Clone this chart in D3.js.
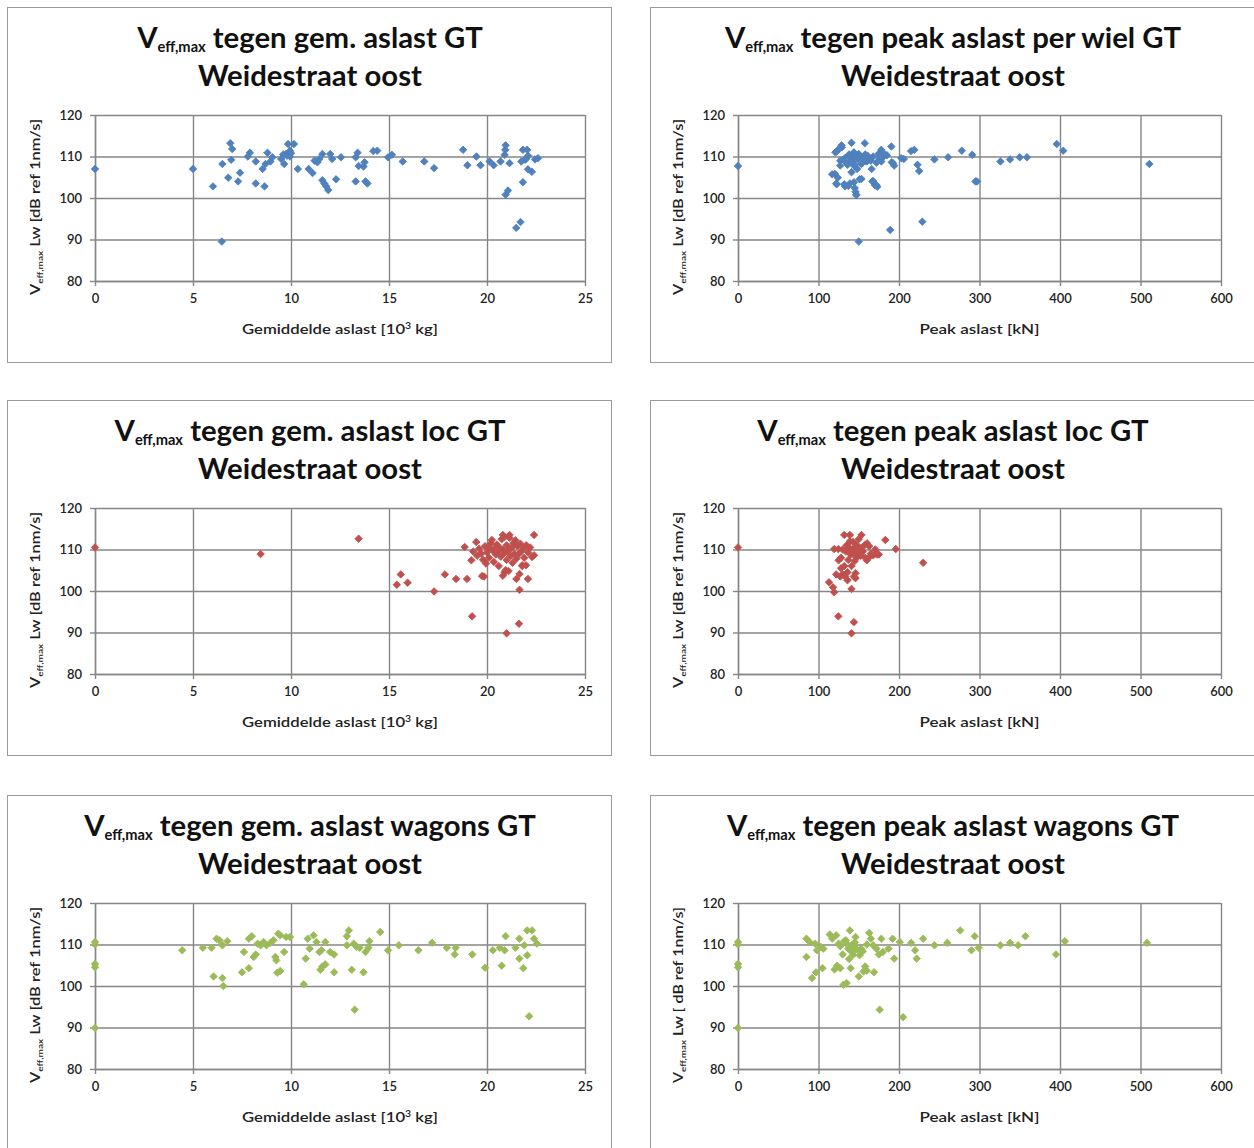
<!DOCTYPE html>
<html>
<head>
<meta charset="utf-8">
<script src="https://cdn.jsdelivr.net/npm/d3@7"></script>
<style>
  html, body { margin: 0; padding: 0; background: #ffffff; }
  svg { display: block; }
</style>
</head>
<body>
<svg id="chart" width="1254" height="1148"></svg>
<script>
// ---------------- DATA ----------------
const xTicksGem = [0, 5, 10, 15, 20, 25];
const xTicksPeak = [0, 100, 200, 300, 400, 500, 600];
const yTicks = [80, 90, 100, 110, 120];

const titleMain = "V";
const titleSub = "eff,max";
const titles = [
  " tegen gem. aslast GT",
  " tegen peak aslast per wiel GT",
  " tegen gem. aslast loc GT",
  " tegen peak aslast loc GT",
  " tegen gem. aslast wagons GT",
  " tegen peak aslast wagons GT"
];
const subtitle = "Weidestraat oost";
const xTitleGem = ["Gemiddelde aslast [10", "3", " kg]"];
const xTitlePeak = ["Peak aslast [kN]", "", ""];
const yTitleA = "  Lw  [dB ref 1nm/s]";
const yTitleB = "  Lw  [ dB ref 1nm/s]";

// Panel 1: gem. aslast GT (all)
const gemAll = [
  [0,107.0],[5,107.0],[6.02,102.8],[6.47,89.5],[6.5,108.2],[6.8,104.9],[6.9,113.2],[7.0,111.8],
  [6.95,109.2],[7.3,104.0],[7.4,106.1],[7.8,110],[7.9,110.9],[8.2,103.5],[8.2,108.8],[8.55,107],
  [8.65,102.8],[8.8,110.9],[8.7,108.2],[8.95,108.8],[9.05,109.8],[9.5,109.4],[9.65,108.2],[9.75,110.6],
  [9.85,113],[9.95,110],[9.95,111.4],[9.8,110.2],[10.0,110.8],[9.6,110.5],[10.15,113],[10.35,107],
  [10.9,107],[11.1,106],[11.2,109],[11.35,108.6],[11.45,109.4],[11.6,110.6],[11.6,104.3],[11.7,103.5],
  [11.8,102.8],[11.9,101.9],[12.0,110.6],[12.1,109.4],[12.3,104.5],[12.55,109.8],[13.3,104.0],[13.3,109.8],
  [13.4,110.9],[13.45,107.7],[13.7,107.6],[13.75,108.6],[13.8,104],[13.9,103.5],[14.2,111.3],[14.4,111.4],
  [14.95,109.8],[15.15,110.4],[15.7,108.8],[16.8,108.8],[17.3,107.2],
  [18.78,111.6],[19.0,107.9],[19.46,110],[19.67,107.9],[20.13,108.8],[20.34,107.9],[20.69,108.8],
  [20.93,111.6],[20.95,112.7],[20.9,110.4],[21.15,108.4],[21.07,101.8],[20.95,100.8],[21.83,111.6],
  [22.05,111.6],[21.75,108.8],[22.0,109.5],[22.1,110.2],[21.95,109.2],[22.6,109.6],[22.45,109.3],
  [22.09,106.9],[22.29,106.3],[21.83,103.8],[21.71,94.2],[21.49,92.8]
];

// Panel 2: peak aslast per wiel GT
const peakAll = [
  [0,107.7],[117,105.7],[121,111],[122,103.5],[124,104.9],[127,109],[127,107.8],[129,112.2],[128.7,112.7],
  [133,102.8],[134,108.6],[137,110.2],[139,103.5],[141,113.3],[141,108.6],[141,106.2],[144,107.8],
  [144,103.8],[146,101.5],[147,100.7],[149,109.4],[150,110.6],[151,104.5],[153,108.2],[156,109.8],
  [157.5,113.2],[158,109],[161,110.2],[163,109.4],[166,107],[167,104],[170,103.1],[173,102.7],[175,110.6],
  [178,111.6],[176,110.9],[180,109.8],[182,110.6],[190.5,112.4],[191,108.6],[194,107.8],[202.8,109.6],
  [206,109.4],[215,111.3],[219,111.6],[223,108],[225,106.5],[189,92.3],[229,94.3],[150,89.5],
  [244,109.3],[261,109.8],[278,111.4],[291,110.4],[295,104],[297,104],[326,108.8],[338,109.3],[350,109.8],
  [359,109.8],[396,113],[404,111.4],[511,108.2],
  [122.6,111.2],[126.7,112.1],[120.5,105.8],[122.6,103.3],[132,103.3],[137,102.9],[145,102.4],[147,100.8],
  [153.4,104.6],[167.8,104.1],[172,103.1],[192.5,108.4],
  [140,109],[143,110],[145,108],[147,109.5],[152,110],[155,108.5],[158,110.5],[160,108.8],[138,110.5],
  [132,109.5],[136,108],[144,111],[148,107],[165,109],[168,110],[172,108.5],[176,109.5],[185,110.3],[178,108.8]
];

// Panel 3: gem. aslast loc GT
const gemLoc = [
  [0,110.5],[8.45,108.9],[13.45,112.6],[15.4,101.5],[15.6,104],[15.95,102],[17.3,99.9],[17.85,104],
  [18.42,102.9],[18.98,102.9],[18.86,110.6],[19.2,107.4],[19.24,93.9],[19.85,103.5],[19.75,103.6],
  [21.0,89.8],[21.63,92.1],[21.66,100.3],[22.09,102.9],[21.5,102.9],[21.66,104.1],[20.81,103.7],[20.98,104.9],
  [22.4,113.5],[22.4,108.6],[20.81,113.5],[21.15,113.5],[21.99,106.2],[21.8,106.2],
  [19.3,109.5],[19.5,108.5],[19.6,110.2],[19.7,109],[19.8,107.5],[19.9,110.8],[20.0,109.3],[20.1,108],
  [20.1,110.5],[20.2,111.5],[20.3,109.7],[20.35,107],[20.4,110.3],[20.45,108.8],[20.5,111.2],[20.55,109.5],
  [20.6,106],[20.6,110.6],[20.7,108.3],[20.75,112.5],[20.8,110],[20.85,109],[20.9,113],[20.9,104.5],
  [20.95,105],[21.0,111],[21.0,107.5],[21.05,109.6],[21.1,104.8],[21.15,112.8],[21.2,108.5],[21.25,110.4],
  [21.3,106.8],[21.35,111.5],[21.4,109],[21.5,107.8],[21.55,110.8],[21.6,108.8],[21.7,111.4],[21.75,109.5],
  [21.8,106],[21.85,110.2],[21.9,108],[22.0,111],[22.1,109.3],[22.2,110.5],[22.3,108.2],[19.45,111.8],
  [20.25,112.3],[19.95,106.6],[21.45,112.2]
];

// Panel 4: peak aslast loc GT
const peakLoc = [
  [0,110.5],[113,102.1],[118,100.9],[119.5,99.7],[124.6,93.9],[141,89.8],[144,92.5],[141,100.5],
  [119.5,110.1],[124.6,110.1],[125,107.4],[122,104],[127,103.5],[132,113.5],[139,113.5],[153.4,113.5],
  [144,103.5],[146,104.3],[160,107.4],[160.3,111.5],[168,108.6],[170.6,110],[172.5,108.8],[183,112.3],
  [196,110.1],[230,106.8],[175,108.8],[162.3,108],
  [128,108],[130,110],[132,106],[134,109.5],[135,111],[136,104.5],[137,107.5],[138,110.5],[139,112],
  [140,108.8],[141,106],[142,110],[143,111.8],[144,109],[145,107.2],[146,110.6],[147,108],[148,111],
  [149,109.3],[150,112.5],[152,108.5],[153,110.3],[155,109.5],[157,111],[158,108],[163,110.8],[165,109],
  [130,104],[133,103.5],[128,105.5],[136,102.6],[146,103.1]
];

// Panel 5: gem. aslast wagons GT
const gemWagon = [
  [0,110.6],[0,110],[0,105.3],[0,104.5],[0,89.9],[4.45,108.6],[5.5,109.2],[5.95,109.2],[6.05,102.3],
  [6.2,111.4],[6.35,111],[6.5,101.9],[6.55,100],[6.5,109.8],[6.75,110.8],[7.5,103.3],[7.6,108.2],
  [7.85,104.3],[7.85,111.4],[8.0,112],[8.1,107],[8.2,107.6],[8.3,110.2],[8.45,109.8],[8.6,110.6],
  [8.75,109.8],[8.95,110.4],[9.1,111],[9.2,107],[9.25,106.2],[9.3,103.2],[9.45,103.6],[9.35,112.6],
  [9.45,112.2],[9.65,108.2],[9.75,111.8],[9.95,111.8],[10.65,100.4],[10.75,106.6],[10.85,111.4],
  [10.95,109],[11.15,112.2],[11.3,110.6],[11.45,108.2],[11.55,108.6],[11.5,103.9],[11.6,104.7],
  [11.75,105.2],[11.75,110.6],[12.0,108.2],[12.2,107.6],[12.2,103.3],[12.85,112],[12.95,113.4],
  [12.85,109.8],[13.1,103.9],[13.2,110.2],[13.25,94.3],[13.35,109.4],[13.5,109.2],[13.7,103.3],
  [13.8,108.2],[13.95,109.2],[14.0,110.8],[14.55,113],[14.95,108.6],[15.5,109.8],[16.5,108.6],
  [17.2,110.4],[17.95,109.2],[18.4,109.2],[18.35,107.6],[19.25,107.6],[19.9,104.4],[20.3,108.6],
  [20.65,109.2],[20.75,104.9],[20.9,108.6],[20.95,112],[21.45,109.2],[21.65,106.6],[21.65,111.4],
  [21.85,104.3],[21.9,109.8],[22.05,107.4],[22.05,113.4],[22.15,92.7],[22.3,113.4],[22.4,111.4],[22.55,110.2]
];

// Panel 6: peak aslast wagons GT
const peakWagon = [
  [0,110.6],[0,110],[0,105.3],[0,104.5],[0,89.9],[85,111.4],[85,107],[89,110.6],[92,101.9],[96,110.2],
  [97,103.3],[98,108.6],[103,109.4],[105,104.3],[106,109],[114,112.4],[117,111.4],[120,104],[123,104.9],
  [122,112.2],[125,110.2],[127,109.6],[127,104.3],[130,107.6],[131,100.3],[134,111],[135,100.7],[137,109],
  [138,106.5],[139,113.4],[140,104.3],[141,109.8],[142,108.2],[144,109.4],[146,111.8],[150,102.3],
  [151,107.4],[153,109],[156,103.5],[158,104.7],[160,103.7],[163,112.8],[165,111.4],[168,109.8],[169,103.3],
  [172,109],[175,107.6],[176,94.3],[178,111.4],[180,108.2],[187,109],[192,111.4],[194,106.6],[201,110.6],
  [205,92.5],[215,110.4],[220,108.6],[222,106.6],[230,111.4],[244,109.8],[260,110.4],[276,113.4],
  [290,108.6],[294,112],[299,109.2],[326,109.8],[338,110.4],[348,109.8],[357,112],[395,107.6],[406,110.8],
  [508,110.4],[140,108.5],[143,107.5],[145,110.5],[148,108.8],[136,110],[132,110.8],[155,108.4],[160,110]
];

const panelData = [gemAll, peakAll, gemLoc, peakLoc, gemWagon, peakWagon];
const panelColors = ["#4f81bd", "#4f81bd", "#c0504d", "#c0504d", "#9bbb59", "#9bbb59"];

// ---------------- LAYOUT ----------------
const svg = d3.select("#chart");
const rowTops = [7, 400, 795];
const boxX = [7, 650];
const boxW = 604, boxH = 355;
const plotX = [[95, 585], [738, 1221]];
const fontTitle = "Lato, 'Open Sans', sans-serif";
const fontSmall = "Lato, 'Open Sans', sans-serif";

svg.append("rect").attr("width", 1254).attr("height", 1148).attr("fill", "#ffffff");

const probe = svg.append("text").attr("font-family", fontTitle).attr("font-weight", 700)
  .attr("font-size", 28).text(subtitle);
const probeW = probe.node().getComputedTextLength();
probe.remove();
const titleSize = 28 * 224 / probeW;

panelData.forEach((data, i) => {
  const col = i % 2, row = Math.floor(i / 2);
  const top = rowTops[row];
  const g = svg.append("g");
  const isGem = col === 0;

  g.append("rect")
    .attr("x", boxX[col] + 0.5).attr("y", top + 0.5)
    .attr("width", boxW).attr("height", boxH)
    .attr("fill", "#ffffff").attr("stroke", "#9a9a9a").attr("stroke-width", 1);

  const cx = boxX[col] + boxW / 2 + 1;

  const t1 = g.append("text")
    .attr("x", cx).attr("y", top + 41)
    .attr("text-anchor", "middle")
    .attr("font-family", fontTitle).attr("font-weight", 700)
    .attr("font-size", titleSize).attr("fill", "#111");
  t1.append("tspan").text(titleMain);
  t1.append("tspan").attr("font-size", titleSize * 0.5).attr("dy", 4).text(titleSub);
  t1.append("tspan").attr("dy", -4).text(titles[i]);
  g.append("text")
    .attr("x", cx).attr("y", top + 79)
    .attr("text-anchor", "middle")
    .attr("font-family", fontTitle).attr("font-weight", 700)
    .attr("font-size", titleSize).attr("fill", "#111")
    .text(subtitle);

  const xTicks = isGem ? xTicksGem : xTicksPeak;
  const x = d3.scaleLinear().domain([xTicks[0], xTicks[xTicks.length - 1]]).range(plotX[col]);
  const y = d3.scaleLinear().domain([80, 120]).range([top + 274, top + 108]);
  const [x0, x1] = plotX[col];
  const y0 = top + 274, y1 = top + 108;
  const gridColor = "#868686";

  g.append("g")
    .attr("transform", `translate(0,${y0})`)
    .call(d3.axisBottom(x).tickValues(xTicks).tickSize(-(y0 - y1)).tickFormat(""))
    .call(s => s.select(".domain").remove())
    .call(s => s.selectAll("line").attr("stroke", gridColor).attr("stroke-width", 1.4));
  g.append("g")
    .attr("transform", `translate(${x0},0)`)
    .call(d3.axisLeft(y).tickValues(yTicks).tickSize(-(x1 - x0)).tickFormat(""))
    .call(s => s.select(".domain").remove())
    .call(s => s.selectAll("line").attr("stroke", gridColor).attr("stroke-width", 1.4));

  const ya = g.append("g")
    .attr("transform", `translate(${x0},0)`)
    .call(d3.axisLeft(y).tickValues(yTicks).tickSize(5).tickSizeOuter(0).tickPadding(8));
  ya.select(".domain").attr("stroke", gridColor).attr("stroke-width", 1.4);
  ya.selectAll("line").attr("stroke", gridColor).attr("stroke-width", 1.4);
  ya.selectAll("text").attr("font-family", fontSmall).attr("font-size", 13)
    .attr("fill", "#222").attr("font-weight", 600);

  const xa = g.append("g")
    .attr("transform", `translate(0,${y0})`)
    .call(d3.axisBottom(x).tickValues(xTicks).tickSize(5).tickSizeOuter(0).tickPadding(8));
  xa.select(".domain").attr("stroke", gridColor).attr("stroke-width", 1.4);
  xa.selectAll("line").attr("stroke", gridColor).attr("stroke-width", 1.4);
  xa.selectAll("text").attr("font-family", fontSmall).attr("font-size", 13)
    .attr("fill", "#222").attr("font-weight", 600);

  // x title
  const xt = isGem ? xTitleGem : xTitlePeak;
  const xtEl = g.append("text")
    .attr("x", (x0 + x1) / 2).attr("y", top + 327)
    .attr("text-anchor", "middle")
    .attr("font-family", fontSmall).attr("font-size", 13.5).attr("font-weight", 600)
    .attr("fill", "#222")
    .attr("textLength", isGem ? 196 : 120).attr("lengthAdjust", "spacingAndGlyphs");
  xtEl.append("tspan").text(xt[0]);
  if (xt[1]) {
    xtEl.append("tspan").attr("font-size", 8.5).attr("dy", -5).text(xt[1]);
    xtEl.append("tspan").attr("dy", 5).text(xt[2]);
  }

  // y title
  const ytx = boxX[col] + 33, yty = (y0 + y1) / 2 + 9;
  const ytEl = g.append("text")
    .attr("transform", `translate(${ytx},${yty}) rotate(-90)`)
    .attr("text-anchor", "middle")
    .attr("font-family", fontSmall).attr("font-size", 13).attr("font-weight", 600)
    .attr("fill", "#222")
    .attr("textLength", 176).attr("lengthAdjust", "spacingAndGlyphs");
  ytEl.append("tspan").text("V");
  ytEl.append("tspan").attr("font-size", 8).attr("dy", 3).text(titleSub);
  ytEl.append("tspan").attr("dy", -3).text(i === 5 ? yTitleB : yTitleA);

  // points
  const sym = d3.symbol().type(d3.symbolSquare).size(28);
  g.append("g").selectAll("path")
    .data(data)
    .join("path")
    .attr("d", sym)
    .attr("transform", d => `translate(${x(d[0])},${y(d[1])}) rotate(45)`)
    .attr("fill", panelColors[i])
    .attr("stroke", panelColors[i]).attr("stroke-width", 0.8).attr("stroke-linejoin", "round");
});
</script>
</body>
</html>
